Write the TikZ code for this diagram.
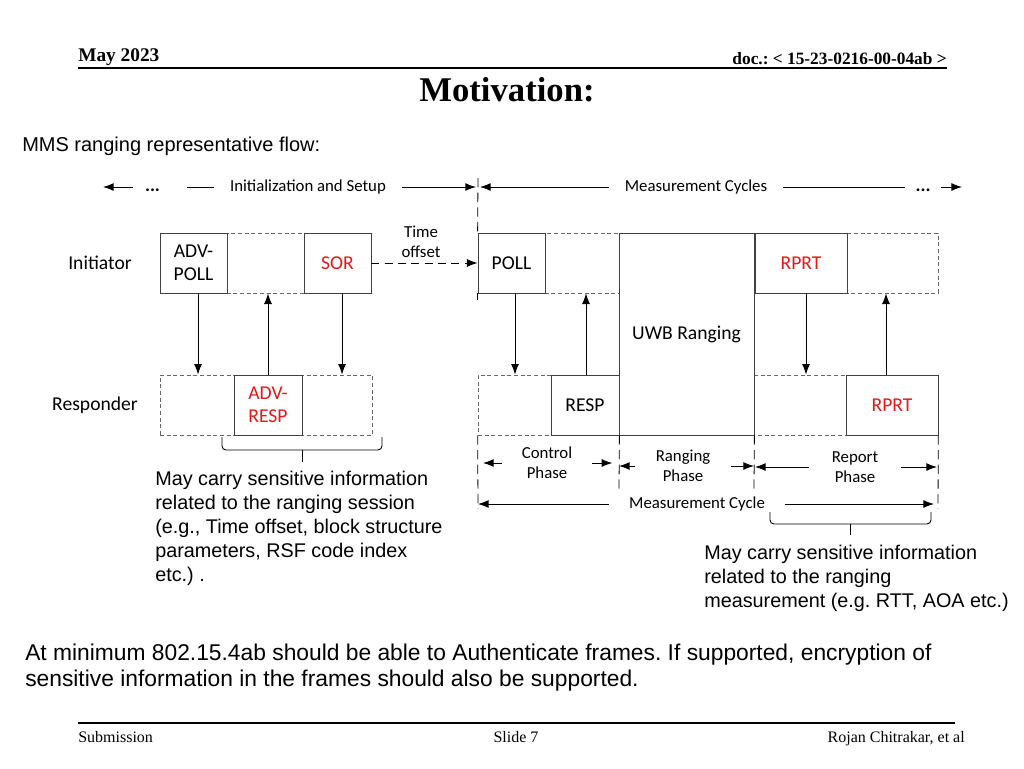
\documentclass[tikz,border=0pt]{standalone}
\usepackage{fontspec}
\setmainfont{Liberation Serif}
\newfontfamily\calibri{Carlito}
\newfontfamily\arial{Liberation Sans}
\usetikzlibrary{arrows.meta,positioning}
\frenchspacing

\definecolor{framered}{RGB}{228,24,24}

\tikzstyle{frame} = [draw=black!75, line width=0.6pt, fill=white, inner sep=0pt, minimum height=45pt, font=\calibri\fontsize{14.7}{17}\selectfont, align=center]
\tikzstyle{slot} = [draw=black!60, dash pattern=on 3pt off 2pt, line width=0.5pt, inner sep=0pt, minimum height=45pt]
\tikzstyle{lbl} = [font=\calibri\fontsize{12.6}{15}\selectfont, align=center]
\tikzstyle{msg} = [-{Latex[length=8pt,width=6pt]}, line width=0.7pt]
\tikzstyle{sepline} = [line width=0.6pt, dash pattern=on 7pt off 4pt]
\tikzstyle{note} = [font=\arial\fontsize{14.85}{18}\selectfont, align=left, anchor=north west, inner sep=0pt]

\begin{document}
\begin{tikzpicture}[x=0.75pt, y=-0.75pt]
        \useasboundingbox (0,0) rectangle (1024,768);
        \fill[white] (0,0) rectangle (1024,768);

        % slide header
        \node[anchor=base west, inner sep=0pt, font=\bfseries\fontsize{14.5}{17}\selectfont] (date) at (78,61) {May 2023};
        \node[anchor=base east, inner sep=0pt, font=\bfseries\fontsize{13}{16}\selectfont] (docid) at (947,64) {doc.: < 15-23-0216-00-04ab >};
        \draw[line width=1.5pt] (78,68) -- (947,68);
        \node[anchor=base, inner sep=0pt, font=\bfseries\fontsize{26}{30}\selectfont] (title) at (507,101) {Motivation:};
        \node[anchor=base west, inner sep=0pt, font=\arial\fontsize{15}{18}\selectfont] (flow) at (22,151) {MMS ranging representative flow:};

        % top timeline
        \coordinate (sepTop) at (478,178);
        \coordinate (tl) at (103,187);
        \coordinate (tr) at (962,187);
        \node[lbl, inner xsep=12pt] (initTxt) at (308,187) {Initialization and Setup};
        \node[lbl, inner xsep=12pt] (measTxt) at (696,187) {Measurement Cycles};
        \node[lbl, anchor=base, inner xsep=9pt, font=\calibri\fontsize{14}{15}\selectfont] (dotsA) at (152.5,191) {\textbf{...}};
        \node[lbl, anchor=base, inner xsep=8pt, font=\calibri\fontsize{14}{15}\selectfont] (dotsB) at (923,191) {\textbf{...}};
        \draw[msg] (dotsA.west |- tl) -- (tl);
        \draw ([xshift=11.25pt]dotsA.east |- tl) -- (initTxt);
        \draw[msg] (initTxt) -- ([xshift=-1.5pt]initTxt -| sepTop);
        \draw[msg] (measTxt) -- ([xshift=1.5pt]measTxt -| sepTop);
        \draw (measTxt) -- (dotsB.west |- tr);
        \draw[msg] (dotsB.east |- tr) -- (tr);

        % initiator and responder rows
        \node[lbl, font=\calibri\fontsize{14.7}{17}\selectfont] (initiator) at (100,263) {Initiator};
        \node[lbl, font=\calibri\fontsize{14.7}{17}\selectfont] (responder) at (95,405) {Responder};
        \node[slot, minimum width=158.25pt] (initL) at (265.5,263) {};
        \node[slot, minimum width=345pt] (initR) at (708,263) {};
        \node[slot, minimum width=159pt] (respL) at (266,405) {};
        \node[slot, minimum width=345pt] (respR) at (708,405) {};

        \node[frame, minimum width=50.25pt] (advpoll) at (193.5,263) {ADV-\\POLL};
        \node[frame, minimum width=50.25pt, text=framered] (sor) at (337.5,263) {SOR};
        \node[frame, minimum width=50.25pt] (poll) at (511.5,263) {POLL};
        \node[frame, minimum width=101.25pt, minimum height=151.5pt] (uwb) at (686.5,334) {UWB Ranging};
        \node[frame, minimum width=69pt, text=framered] (rprtI) at (801,263) {RPRT};
        \node[frame, minimum width=51pt, text=framered] (advresp) at (268,405) {ADV-\\RESP};
        \node[frame, minimum width=51pt] (resp) at (585,405) {RESP};
        \node[frame, minimum width=69pt, text=framered] (rprtR) at (892,405) {RPRT};

        % separator between setup and cycles
        \draw[sepline] (sepTop) -- (poll.north west);
        \draw[sepline] (poll.south west) -- ++(0,7);

        % time offset
        \node[lbl] (toff) at (421,242) {Time\\offset};
        \draw[msg, dash pattern=on 6pt off 4pt] (sor.east) -- (poll.west);

        % messages
        \draw[msg] ([xshift=3.4pt]advpoll.south) -- ([xshift=3.4pt]advpoll.south |- respL.north);
        \draw[msg] (advresp.north) -- (advresp.north |- initL.south);
        \draw[msg] ([xshift=3.4pt]sor.south) -- ([xshift=3.4pt]sor.south |- respL.north);
        \draw[msg] ([xshift=2.6pt]poll.south) -- ([xshift=2.6pt]poll.south |- respR.north);
        \draw[msg] ([xshift=0.75pt]resp.north) -- ([xshift=0.75pt]resp.north |- initR.south);
        \draw[msg] ([xshift=3.75pt]rprtI.south) -- ([xshift=3.75pt]rprtI.south |- respR.north);
        \draw[msg] ([xshift=-4.5pt]rprtR.north) -- ([xshift=-4.5pt]rprtR.north |- initR.south);

        % phases of one cycle
        \coordinate (v1) at (478,509);
        \coordinate (v2) at (619,490);
        \coordinate (v3) at (754,490);
        \coordinate (v4) at (938,509);
        \draw[sepline] (respR.south west) -- (v1);
        \draw[sepline] (resp.south east) -- (v2);
        \draw[sepline] (uwb.south east) -- (v3);
        \draw[sepline] (respR.south east) -- (v4);

        \node[lbl, inner xsep=15pt] (ctrl) at (547,463) {Control\\Phase};
        \node[lbl, inner xsep=15pt] (rng) at (683,466) {Ranging\\Phase};
        \node[lbl, inner xsep=17pt] (rep) at (855,467) {Report\\Phase};
        \node[lbl, inner xsep=15pt] (mcyc) at (697,504) {Measurement Cycle};
        \draw[msg] (ctrl.west) -- ([xshift=3.75pt]ctrl.west -| v1);
        \draw[msg] (ctrl.east) -- ([xshift=-5pt]ctrl.east -| v2);
        \draw[msg] (rng.west) -- (rng.west -| v2);
        \draw[msg] (rng.east) -- (rng.east -| v3);
        \draw[msg] (rep.west) -- ([xshift=0.75pt]rep.west -| v3);
        \draw[msg] (rep.east) -- ([xshift=-0.75pt]rep.east -| v4);
        \draw[msg] (mcyc.west) -- (mcyc.west -| v1);
        \draw[msg] (mcyc.east) -- ([xshift=-3pt]mcyc.east -| v4);

        % braces
        \draw[line width=0.7pt, rounded corners=3pt] (222,437) -- (222,450) -- (382,450) -- (382,437);
        \draw[line width=0.7pt] (302,450) -- (302,462);
        \draw[line width=0.7pt, rounded corners=3pt] (770,512) -- (770,524) -- (931,524) -- (931,512);
        \draw[line width=0.7pt] (850,524) -- (850,535);

        % notes
        \node[note] (noteL) at (155,471) {May carry sensitive information\\related to the ranging session\\(e.g., Time offset, block structure\\parameters, RSF code index\\etc.) .};
        \node[note] (noteR) at (704,545) {May carry sensitive information\\related to the ranging\\measurement (e.g. RTT, AOA etc.)};
        \node[note, font=\arial\fontsize{17.1}{19.5}\selectfont] (summary) at (25,644) {At minimum 802.15.4ab should be able to Authenticate frames. If supported, encryption of\\sensitive information in the frames should also be supported.};

        % slide footer
        \draw[line width=1.2pt] (78,723) -- (955,723);
        \node[anchor=base west, inner sep=0pt, font=\fontsize{12}{14}\selectfont] (subm) at (78,742) {Submission};
        \node[anchor=base, inner sep=0pt, font=\fontsize{12}{14}\selectfont] (slide) at (516,742) {Slide 7};
        \node[anchor=base east, inner sep=0pt, font=\fontsize{12}{14}\selectfont] (author) at (965,742) {Rojan Chitrakar, et al};
    \end{tikzpicture}
\end{document}
